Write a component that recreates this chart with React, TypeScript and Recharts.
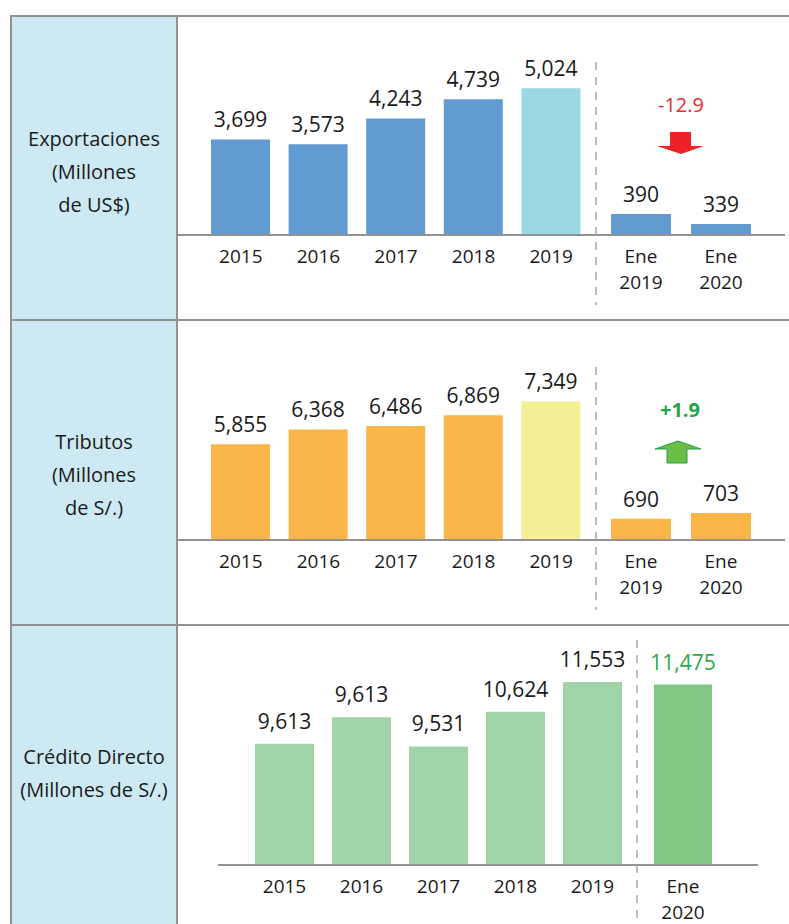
import React from 'react';
import { BarChart, Bar, XAxis, YAxis, Cell, LabelList } from 'recharts';

const FONT = '"Open Sans", "Noto Sans", sans-serif';
const LINE = '#929292';
const INK = '#1a1a1a';

// categories
const years = ['2015', '2016', '2017', '2018', '2019'];
const months = ['Ene 2019', 'Ene 2020'];
const creditMonths = ['Ene 2020'];

// Exportaciones (millones de US$)
const exportYears = [3699, 3573, 4243, 4739, 5024];
const exportMonths = [390, 339];
// Tributos (millones de S/.)
const taxYears = [5855, 6368, 6486, 6869, 7349];
const taxMonths = [690, 703];
// Credito directo (millones de S/.) - the source prints 9,613 on 2016 too, but draws it taller
const creditYears = [9613, 10450, 9531, 10624, 11553];
const creditYearLabels = ['9,613', '9,613', '9,531', '10,624', '11,553'];
const creditMonthValues = [11475];

const renderTick = (props: any) => {
  const { x, y, payload } = props;
  const parts = String(payload.value).split(' ');
  return (
    <text x={x} y={y} textAnchor="middle" fontFamily={FONT} fontSize={19} fill={INK}>
      {parts.map((p, i) => (
        <tspan key={i} x={x} dy={i === 0 ? 28 : 26}>{p}</tspan>
      ))}
    </text>
  );
};

function MiniChart(props: any) {
  const {
    left, top, width, height, mt, mb, ah, cats, values, labels, colors, domain,
    barSize, pad, labelColor = INK, labelOffset = 12,
  } = props;
  const data = cats.map((c: string, i: number) => ({
    cat: c,
    value: values[i],
    label: labels ? labels[i] : values[i].toLocaleString('en-US'),
  }));
  return (
    <div style={{ position: 'absolute', left, top }}>
      <BarChart width={width} height={height} data={data} barSize={barSize}
        margin={{ top: mt, right: 0, bottom: mb, left: 0 }}>
        <XAxis dataKey="cat" height={ah} padding={pad} interval={0}
          axisLine={{ stroke: LINE, strokeWidth: 2 }} tickLine={false}
          tickSize={0} tickMargin={0} tick={renderTick} />
        <YAxis hide domain={domain} allowDataOverflow />
        <Bar dataKey="value" isAnimationActive={false}>
          {data.map((_: any, i: number) => <Cell key={i} fill={colors[i]} />)}
          <LabelList dataKey="label" position="top" offset={labelOffset}
            fill={labelColor} fontSize={21} fontFamily={FONT} />
        </Bar>
      </BarChart>
    </div>
  );
}

const RowLabel = ({ top, lines, lh = 33 }: { top: number; lines: string[]; lh?: number }) => (
  <div style={{
    position: 'absolute', left: 11, width: 166, top, textAlign: 'center',
    fontSize: 20, lineHeight: `${lh}px`, color: INK,
  }}>
    {lines.map((l, i) => <div key={i}>{l}</div>)}
  </div>
);

export default function App() {
  const blue = '#629bd2';
  const orange = '#fbb64a';
  const green = '#a0d3a8';
  return (
    <div style={{
      position: 'absolute', left: 0, top: 0, width: 789, height: 924,
      overflow: 'hidden', background: '#fff', fontFamily: FONT,
    }}>
      {/* table frame */}
      <div style={{ position: 'absolute', left: 11, top: 16, width: 166, height: 908, background: '#cdeaf4' }} />
      <div style={{ position: 'absolute', left: 11, top: 15, width: 778, height: 2, background: LINE }} />
      <div style={{ position: 'absolute', left: 11, top: 319, width: 778, height: 2, background: LINE }} />
      <div style={{ position: 'absolute', left: 11, top: 624, width: 778, height: 2, background: LINE }} />
      <div style={{ position: 'absolute', left: 10, top: 15, width: 2, height: 909, background: LINE }} />
      <div style={{ position: 'absolute', left: 176, top: 15, width: 2, height: 909, background: LINE }} />

      <RowLabel top={122} lines={['Exportaciones', '(Millones', 'de US$)']} />
      <RowLabel top={425} lines={['Tributos', '(Millones', 'de S/.)']} />
      <RowLabel top={740} lines={['Crédito Directo', '(Millones de S/.)']} />

      {/* Exportaciones */}
      <MiniChart left={177} top={20} width={419} height={300} mt={50} mb={25} ah={60}
        cats={years} values={exportYears} domain={[1220, 5500]} barSize={59}
        pad={{ left: 25, right: 6 }}
        colors={[blue, blue, blue, blue, '#9ad8e2']} />
      <MiniChart left={596} top={20} width={189} height={300} mt={50} mb={25} ah={60}
        cats={months} values={exportMonths} domain={[283, 1125]} barSize={60}
        pad={{ left: 5, right: 24 }} colors={[blue, blue]} />

      {/* Tributos */}
      <MiniChart left={177} top={325} width={419} height={300} mt={50} mb={25} ah={60}
        cats={years} values={taxYears} domain={[2500, 8275]} barSize={59}
        pad={{ left: 25, right: 6 }}
        colors={[orange, orange, orange, orange, '#f3ef94']} />
      <MiniChart left={596} top={325} width={189} height={300} mt={50} mb={25} ah={60}
        cats={months} values={taxMonths} domain={[644, 1003]} barSize={60}
        pad={{ left: 5, right: 24 }} colors={[orange, orange]} />

      {/* Credito directo */}
      <MiniChart left={218} top={630} width={419} height={294} mt={22} mb={4} ah={55}
        cats={years} values={creditYears} labels={creditYearLabels}
        domain={[5800, 12500]} barSize={59} pad={{ left: 28, right: 6 }} labelOffset={15}
        colors={[green, green, green, green, green]} />
      <MiniChart left={637} top={630} width={121} height={294} mt={22} mb={4} ah={55}
        cats={creditMonths} values={creditMonthValues} domain={[5800, 12500]} barSize={58}
        pad={{ left: 0, right: 29 }} labelOffset={15} labelColor="#2ea84a"
        colors={['#82c884']} />

      {/* separators and change markers */}
      <svg width={789} height={924} style={{ position: 'absolute', left: 0, top: 0, pointerEvents: 'none' }}>
        <g stroke="#a6a6a6" strokeWidth={1.5} strokeDasharray="8 7">
          <line x1={596} y1={62} x2={596} y2={305} />
          <line x1={596} y1={367} x2={596} y2={610} />
          <line x1={637} y1={640} x2={637} y2={924} />
        </g>
        <text x={681} y={112} textAnchor="middle" fontFamily={FONT} fontSize={20} fill="#ee2b2b">-12.9</text>
        <polygon points="670,132 691,132 691,146 704,146 681,154 657,146 670,146" fill="#ee2127" />
        <text x={680} y={417} textAnchor="middle" fontFamily={FONT} fontSize={20} fontWeight="bold" fill="#1fa54a">+1.9</text>
        <polygon points="678,441 701,449 687,449 687,463 667,463 667,449 655,449"
          fill="#6abd45" stroke="#27a04a" strokeWidth={1} />
      </svg>
    </div>
  );
}
